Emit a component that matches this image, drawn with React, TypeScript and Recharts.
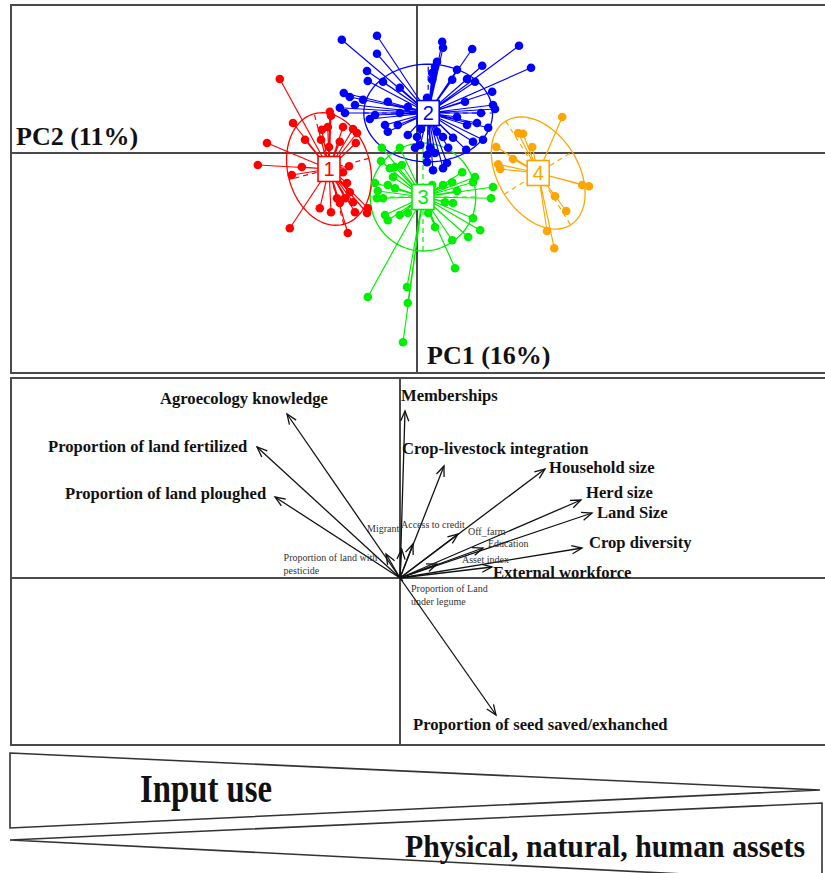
import React from 'react';
import { ScatterChart, Scatter, XAxis, YAxis, ReferenceLine } from 'recharts';

type Pt = [number, number];

// ---------- Top panel: individual scores (PC1, PC2) ----------
const clusterNames = ['1', '2', '3', '4'];
const clusterColors = ['#ff0000', '#0000ff', '#00ee00', '#ffa500'];
const centroids: Pt[] = [
  [-2.2, -0.4],
  [0.28, 1.0],
  [0.15, -1.1],
  [3.03, -0.5],
];
const cluster1: Pt[] = [
  [-3.43, 1.85], [-3.1, 0.75], [-2.18, 1.03], [-2.15, 0.93], [-2.23, 0.65], [-2.38, 0.58],
  [-1.85, 0.65], [-1.6, 0.6], [-1.5, 0.5], [-2.8, 0.33], [-2.4, 0.33], [-1.93, 0.28],
  [-1.53, 0.25], [-2.2, 0.15], [-3.75, 0.25], [-3.98, -0.3], [-2.88, -0.35], [-3.13, -0.55],
  [-1.7, -0.33], [-1.85, -0.48], [-1.75, -0.75], [-1.68, -0.98], [-2.0, -1.13], [-1.8, -1.13],
  [-1.6, -1.23], [-1.55, -1.48], [-1.23, -1.38], [-1.25, -1.5], [-2.43, -1.38], [-2.15, -1.48],
  [-3.18, -1.88], [-1.73, -2.0], [-1.93, -1.25],
];
const cluster2: Pt[] = [
  [-1.88, 2.83], [-1.0, 2.93], [0.63, 2.78], [0.65, 2.63], [1.38, 2.6], [2.55, 2.68],
  [2.85, 2.13], [-1.0, 2.48], [1.63, 2.18], [0.5, 2.28], [0.45, 2.15], [1.0, 2.08],
  [-1.25, 2.05], [-1.23, 1.8], [-0.85, 1.78], [0.38, 2.0], [0.38, 1.83], [1.45, 1.78],
  [1.25, 1.85], [0.88, 1.83], [1.88, 1.53], [1.9, 1.2], [1.95, 1.1], [-1.83, 1.5],
  [-1.68, 1.4], [-1.35, 1.33], [-0.73, 1.28], [-0.43, 1.63], [0.25, 1.38], [1.2, 1.28],
  [-1.93, 1.13], [-1.8, 1.0], [-1.18, 0.85], [-0.43, 1.0], [-0.23, 1.15], [1.0, 0.9],
  [1.25, 0.7], [1.5, 0.75], [1.78, 0.63], [1.65, 0.33], [1.4, 0.28], [1.23, 0.08],
  [-0.8, 0.7], [-0.73, 0.53], [-0.48, 0.7], [-0.23, 0.45], [0.0, 0.4], [0.08, 0.2],
  [-0.05, 0.13], [0.33, 0.13], [0.45, 0.0], [0.5, 0.53], [0.65, 0.4], [0.9, 0.38],
  [0.78, 0.13], [0.25, -0.05], [0.25, -0.23], [0.4, -0.43], [0.65, -0.38], [0.75, -0.25],
  [-1.55, 1.2], [-1.05, 0.95], [1.6, 1.0], [0.1, 0.6],
];
const cluster3: Pt[] = [
  [-0.88, 0.13], [-0.43, 0.13], [-0.68, -0.38], [-0.55, -0.35], [-0.38, -0.3], [-1.05, -0.75],
  [-0.98, -0.95], [-1.0, -1.13], [-0.85, -1.13], [-0.73, -0.8], [-0.55, -0.88], [-0.8, -1.55],
  [-0.43, -1.55], [-0.23, -1.5], [-0.73, -1.68], [0.38, -0.8], [0.65, -0.8], [0.88, -0.73],
  [1.13, -0.48], [1.45, -0.6], [1.4, -0.73], [1.9, -0.85], [1.85, -1.13], [0.7, -1.23],
  [0.9, -1.25], [0.28, -1.5], [0.45, -1.85], [1.4, -1.63], [1.58, -1.93], [1.28, -2.1],
  [0.88, -2.18], [0.95, -2.88], [-1.23, -3.6], [-0.25, -3.35], [-0.23, -3.75], [-0.35, -4.73],
  [-0.9, -0.2], [-0.6, -0.6], [1.0, -0.95],
];
const cluster4: Pt[] = [
  [3.63, 0.9], [2.53, 0.5], [2.65, 0.48], [2.88, 0.15], [1.98, 0.15], [2.4, -0.15],
  [2.03, -0.28], [2.08, -0.4], [4.13, -0.8], [4.3, -0.83], [3.45, -1.08], [3.73, -1.45],
  [3.25, -1.95], [3.43, -2.38],
];
const clusters: Pt[][] = [cluster1, cluster2, cluster3, cluster4];
// confidence ellipses: semi-axes and orientation (degrees) of the major axis
const ellipseSemiMajor = [1.43, 1.61, 1.35, 1.53];
const ellipseSemiMinor = [1.03, 1.22, 1.32, 1.0];
const ellipseAngle = [105, 0, 90, -58];

// ---------- Middle panel: variable loadings ----------
const variables = [
  'Agroecology knowledge', 'Proportion of land fertilized', 'Proportion of land ploughed',
  'Memberships', 'Crop-livestock integration', 'Household size', 'Herd size', 'Land Size',
  'Crop diversity', 'External workforce', 'Off_farm', 'Education', 'Asset index',
  'Access to credit', 'Migrant', 'Proportion of land with pesticide',
  'Proportion of Land under legume', 'Proportion of seed saved/exhanched',
];
const loadingPC1 = [-0.565, -0.715, -0.625, 0.025, 0.22, 0.725, 0.905, 0.96, 0.91, 0.46, 0.29, 0.415, 0.185, 0.065, -0.07, 0.008, 0.015, 0.48];
const loadingPC2 = [0.82, 0.655, 0.405, 0.835, 0.56, 0.545, 0.39, 0.325, 0.15, 0.055, 0.22, 0.15, 0.07, 0.17, 0.12, 0.145, -0.015, -0.685];

// label placement (px offsets from arrow tip) and style
const labelOffsets: Record<string, [number, number]> = {
  'Agroecology knowledge': [-127, -16],
  'Proportion of land fertilized': [-209, -1],
  'Proportion of land ploughed': [-210, -4],
  'Memberships': [-4, -16],
  'Crop-livestock integration': [-42, -18],
  'Household size': [4, -2],
  'Herd size': [5, -8],
  'Land Size': [5, -1],
  'Crop diversity': [7, -6],
  'External workforce': [1, 5],
  'Off_farm': [10, -3],
  'Education': [5, -5],
  'Asset index': [25, -5],
  'Access to credit': [-12, -20],
  'Migrant': [-19, -26],
  'Proportion of land with pesticide': [-118, 8],
  'Proportion of Land under legume': [8, 7],
  'Proportion of seed saved/exhanched': [-83, 9],
};
const smallLabels = new Set([
  'Off_farm', 'Education', 'Asset index', 'Access to credit', 'Migrant',
  'Proportion of land with pesticide', 'Proportion of Land under legume',
]);
const splitLabels: Record<string, string[]> = {
  'Proportion of land with pesticide': ['Proportion of land with', 'pesticide'],
  'Proportion of Land under legume': ['Proportion of Land', 'under legume'],
};

const SERIF = '"Liberation Serif", "Times New Roman", serif';
const FRAME = '#4a4a4a';

function ellipseOutline(i: number) {
  const [cx, cy] = centroids[i];
  const a = ellipseSemiMajor[i];
  const b = ellipseSemiMinor[i];
  const t = (ellipseAngle[i] * Math.PI) / 180;
  const pts: { x: number; y: number }[] = [];
  for (let k = 0; k <= 90; k++) {
    const s = (k / 90) * 2 * Math.PI;
    const u = a * Math.cos(s);
    const v = b * Math.sin(s);
    pts.push({ x: cx + u * Math.cos(t) - v * Math.sin(t), y: cy + u * Math.sin(t) + v * Math.cos(t) });
  }
  return pts;
}
function ellipseAxis(i: number, major: boolean) {
  const [cx, cy] = centroids[i];
  const r = major ? ellipseSemiMajor[i] : ellipseSemiMinor[i];
  const t = (ellipseAngle[i] * Math.PI) / 180 + (major ? 0 : Math.PI / 2);
  return [
    { x: cx - r * Math.cos(t), y: cy - r * Math.sin(t) },
    { x: cx + r * Math.cos(t), y: cy + r * Math.sin(t) },
  ];
}
function starData(i: number) {
  const [cx, cy] = centroids[i];
  const out: { x: number; y: number; c?: boolean }[] = [];
  clusters[i].forEach(([x, y]) => {
    out.push({ x: cx, y: cy, c: true });
    out.push({ x, y });
  });
  return out;
}

const nothing = () => <g />;

const drawOrder = [2, 0, 3, 1];

function TopPanel() {
  const W = 820;
  const H = 368;
  const xmin = -10.15;
  const ymax = 3.7;
  const k = 40;
  const centroidData = centroids.map(([x, y], i) => ({ x, y, i }));
  return (
    <ScatterChart width={W} height={H} margin={{ top: 0, right: 0, bottom: 0, left: 0 }}>
      <XAxis type="number" dataKey="x" hide domain={[xmin, xmin + W / k]} allowDataOverflow />
      <YAxis type="number" dataKey="y" hide domain={[ymax - H / k, ymax]} allowDataOverflow />
      <ReferenceLine x={0} stroke={FRAME} strokeWidth={2} />
      <ReferenceLine y={0} stroke={FRAME} strokeWidth={2} />
      {drawOrder.map((i) => (
        <Scatter
          key={'e' + i}
          data={ellipseOutline(i)}
          fill={clusterColors[i]}
          line={{ stroke: clusterColors[i], strokeWidth: 1.3 }}
          shape={nothing}
          isAnimationActive={false}
        />
      ))}
      {drawOrder.map((i) =>
        [true, false].map((maj) => (
          <Scatter
            key={'a' + i + maj}
            data={ellipseAxis(i, maj)}
            fill={clusterColors[i]}
            line={{ stroke: clusterColors[i], strokeWidth: 1.2, strokeDasharray: '5 4' }}
            shape={nothing}
            isAnimationActive={false}
          />
        ))
      )}
      {drawOrder.map((i) => (
        <Scatter
          key={'s' + i}
          data={starData(i)}
          fill={clusterColors[i]}
          line={{ stroke: clusterColors[i], strokeWidth: 1.15 }}
          shape={(p: any) =>
            p.payload && p.payload.c ? <g /> : <circle cx={p.cx} cy={p.cy} r={4.3} fill={clusterColors[i]} />
          }
          isAnimationActive={false}
        />
      ))}
      <Scatter
        data={centroidData}
        fill="#000"
        isAnimationActive={false}
        shape={(p: any) => {
          const i = p.payload.i;
          const c = clusterColors[i];
          return (
            <g>
              <rect x={p.cx - 11} y={p.cy - 12.5} width={22} height={25} fill="#fff" stroke={c} strokeWidth={1.6} />
              <text
                x={p.cx}
                y={p.cy + 7}
                textAnchor="middle"
                fontSize={20}
                fontFamily='"Liberation Sans", Arial, sans-serif'
                fill={c}
              >
                {clusterNames[i]}
              </text>
            </g>
          );
        }}
      />
    </ScatterChart>
  );
}

function makeArrow(name: string) {
  return (props: any) => {
    const { x1, y1, x2, y2 } = props;
    if ([x1, y1, x2, y2].some((v) => typeof v !== 'number' || isNaN(v))) return <g />;
    const ang = Math.atan2(y2 - y1, x2 - x1);
    const len = Math.hypot(x2 - x1, y2 - y1);
    const L = 11;
    const w = 0.38;
    const h1 = [x2 - L * Math.cos(ang - w), y2 - L * Math.sin(ang - w)];
    const h2 = [x2 - L * Math.cos(ang + w), y2 - L * Math.sin(ang + w)];
    const [dx, dy] = labelOffsets[name] || [4, 0];
    const small = smallLabels.has(name);
    const lines = splitLabels[name] || [name];
    const fs = small ? 10 : 16.6;
    return (
      <g>
        <line x1={x1} y1={y1} x2={x2} y2={y2} stroke="#111" strokeWidth={1.3} />
        {len > 12 && (
          <polyline
            points={`${h1[0]},${h1[1]} ${x2},${y2} ${h2[0]},${h2[1]}`}
            fill="none"
            stroke="#111"
            strokeWidth={1.3}
          />
        )}
        {lines.map((t, j) => (
          <text
            key={j}
            x={x2 + dx}
            y={y2 + dy + (small ? 3.5 : 5.7) + j * 13}
            fontFamily={SERIF}
            fontSize={fs}
            fontWeight={small ? 'normal' : 'bold'}
            fill={small ? '#333' : '#111'}
          >
            {t}
          </text>
        ))}
      </g>
    );
  };
}

function MiddlePanel() {
  const W = 820;
  const H = 367;
  const xmin = -1.945;
  const ymax = 1.0;
  const k = 200;
  const tips = variables.map((v, i) => ({ x: loadingPC1[i], y: loadingPC2[i], v }));
  return (
    <ScatterChart width={W} height={H} margin={{ top: 0, right: 0, bottom: 0, left: 0 }}>
      <XAxis type="number" dataKey="x" hide domain={[xmin, xmin + W / k]} allowDataOverflow />
      <YAxis type="number" dataKey="y" hide domain={[ymax - H / k, ymax]} allowDataOverflow />
      <ReferenceLine x={0} stroke={FRAME} strokeWidth={2} />
      <ReferenceLine y={0} stroke={FRAME} strokeWidth={2} />
      <Scatter data={tips} fill="#000" shape={nothing} isAnimationActive={false} />
      {variables.map((v, i) => (
        <ReferenceLine
          key={v}
          segment={[
            { x: 0, y: 0 },
            { x: loadingPC1[i], y: loadingPC2[i] },
          ]}
          ifOverflow="visible"
          shape={makeArrow(v)}
        />
      ))}
    </ScatterChart>
  );
}

export default function App() {
  return (
    <div
      style={{
        position: 'absolute',
        left: 0,
        top: 0,
        width: 825,
        height: 873,
        overflow: 'hidden',
        background: '#fff',
      }}
    >
      <div
        style={{
          position: 'absolute',
          left: 10,
          top: 4,
          width: 830,
          height: 370,
          border: `2px solid ${FRAME}`,
          boxSizing: 'border-box',
        }}
      />
      <div style={{ position: 'absolute', left: 11, top: 5 }}>
        <TopPanel />
      </div>
      <div
        style={{
          position: 'absolute',
          left: 10,
          top: 377,
          width: 830,
          height: 369,
          border: `2px solid ${FRAME}`,
          boxSizing: 'border-box',
        }}
      />
      <div style={{ position: 'absolute', left: 11, top: 378 }}>
        <MiddlePanel />
      </div>
      <svg
        width={825}
        height={873}
        style={{ position: 'absolute', left: 0, top: 0, pointerEvents: 'none' }}
      >
        <text x={16} y={145} fontFamily={SERIF} fontWeight="bold" fontSize={26} fill="#111">
          PC2 (11%)
        </text>
        <text x={427} y={364} fontFamily={SERIF} fontWeight="bold" fontSize={26} fill="#111">
          PC1 (16%)
        </text>
        <polygon points="10,753 820,790 10,828" fill="#fff" stroke="#333" strokeWidth={1.6} />
        <polygon points="10,840 822,803 822,881" fill="#fff" stroke="#333" strokeWidth={1.6} />
        <text
          x={140}
          y={802}
          fontFamily={SERIF}
          fontWeight="bold"
          fontSize={40}
          textLength={132}
          lengthAdjust="spacingAndGlyphs"
          fill="#111"
        >
          Input use
        </text>
        <text
          x={405}
          y={857}
          fontFamily={SERIF}
          fontWeight="bold"
          fontSize={31}
          textLength={400}
          lengthAdjust="spacingAndGlyphs"
          fill="#111"
        >
          Physical, natural, human assets
        </text>
      </svg>
    </div>
  );
}
